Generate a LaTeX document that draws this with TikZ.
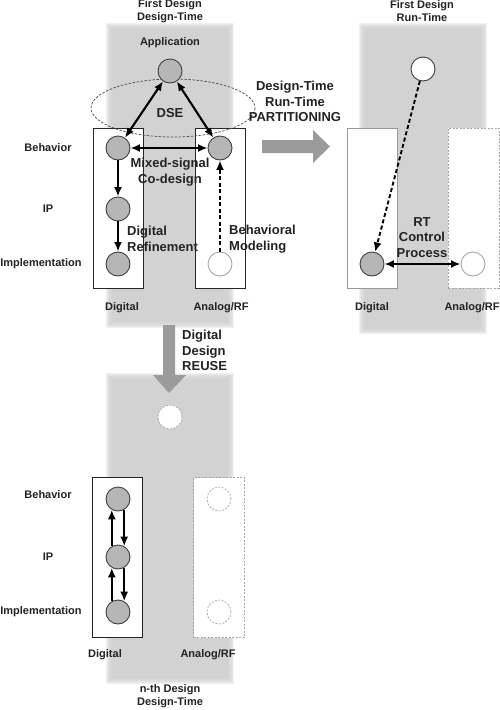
\documentclass[tikz,border=0pt]{standalone}
\usepackage{fontspec}
\setmainfont{Liberation Sans}
\usetikzlibrary{arrows.meta}
\definecolor{bandc}{RGB}{210,210,210}
\definecolor{circc}{RGB}{182,182,182}
\definecolor{txtc}{RGB}{35,35,35}
\definecolor{bigarr}{RGB}{155,155,155}
\tikzset{
  lbl/.style={font=\fontsize{11}{13}\selectfont\bfseries, text=txtc, align=center, inner sep=0pt},
  ann/.style={font=\fontsize{13}{15.5}\selectfont\bfseries, text=txtc, align=center, inner sep=0pt},
  dot/.style={circle, minimum size=24pt, inner sep=0pt, draw=black!75, line width=0.9pt, fill=circc},
  wdot/.style={circle, minimum size=24pt, inner sep=0pt, draw=black!75, line width=0.9pt, fill=white},
  ldot/.style={circle, minimum size=24pt, inner sep=0pt, draw=black!35, line width=0.9pt, fill=white},
  ddot/.style={circle, minimum size=24pt, inner sep=0pt, draw=black!35, line width=0.7pt, dash pattern=on 2pt off 1.5pt, fill=white},
  boxn/.style={rectangle, draw=black!85, line width=0.9pt, fill=white, minimum width=50pt, minimum height=160pt, inner sep=0pt},
  gboxn/.style={rectangle, draw=black!40, line width=0.9pt, fill=white, minimum width=50pt, minimum height=160pt, inner sep=0pt},
  dboxn/.style={rectangle, draw=black!35, line width=0.7pt, dash pattern=on 2pt off 1.5pt, fill=white, minimum width=51pt, minimum height=160pt, inner sep=0pt},
  arr/.style={line width=2.1pt, draw=black, -{Latex[length=9.5pt,width=8pt]}},
  darr/.style={line width=2.1pt, draw=black, {Latex[length=9.5pt,width=8pt]}-{Latex[length=9.5pt,width=8pt]}},
  dsharr/.style={line width=1.9pt, draw=black, dash pattern=on 4pt off 2.5pt, -{Latex[length=9.5pt,width=8pt]}},
}
\newcommand{\myband}[4]{%
  \fill[bandc] (#1+2,#2+2) rectangle (#3-2,#4-2);
  \foreach \d in {-1,0,1,2,3,4}{\fill[bandc, opacity=0.3] (#1-\d,#2-\d) rectangle (#3+\d,#4+\d);}
}
\begin{document}
\begin{tikzpicture}[x=1pt,y=-1pt]
\useasboundingbox (0,0) rectangle (500,710);
\fill[white] (0,0) rectangle (500,710);
% bands
\myband{110}{27}{230}{324}
\myband{363}{27}{483}{330}
\myband{110}{377}{230}{680}

% ---------- top-left: first design, design-time ----------
\node[lbl] (t1) at (170,11.5) {First Design\\Design-Time};
\node[lbl] (appl) at (170,43) {Application};
\node[boxn] (dbox) at (118,208) {};
\node[boxn] (abox) at (220.5,208) {};
\draw[black!70, line width=0.7pt, dash pattern=on 2.5pt off 1.5pt] (173,108) ellipse [x radius=82, y radius=29];
\node[dot] (app) at (170,71) {};
\node[dot] (db) at (118,148) {};
\node[dot] (dip) at (118,209) {};
\node[dot] (dimp) at (118,264) {};
\node[dot] (ab) at (220,148) {};
\node[ldot] (aimp) at (220,264) {};
\draw[darr] (app) -- (db);
\draw[darr] (app) -- (ab);
\draw[darr] (db) -- (ab);
\draw[arr] (db) -- (dip);
\draw[arr] (dip) -- (dimp);
\draw[dsharr] (aimp) -- (ab);
\node[ann] (dse) at (170,113) {DSE};
\node[ann] (msc) at (170,172) {Mixed-signal\\Co-design};
\node[ann, anchor=west, align=left] (dref) at (127,239) {Digital\\Refinement};
\node[ann, anchor=west, align=left] (bmod) at (229,239) {Behavioral\\Modeling};
\node[lbl] (l1) at (48,148) {Behavior};
\node[lbl] (l2) at (48,209) {IP};
\node[lbl] (l3) at (41,264) {Implementation};
\node[lbl] (l4) at (122,308) {Digital};
\node[lbl] (l5) at (221,308) {Analog/RF};

% ---------- partitioning arrow ----------
\fill[bigarr] (262,140) -- (313,140) -- (313,130) -- (330,146.5) -- (313,163) -- (313,153) -- (262,153) -- cycle;
\node[ann] (part) at (295,101.5) {Design-Time\\Run-Time\\PARTITIONING};

% ---------- top-right: first design, run-time ----------
\node[lbl] (t2) at (422,11.5) {First Design\\Run-Time};
\node[gboxn] (rdbox) at (372,208) {};
\node[dboxn] (rabox) at (473.5,208) {};
\node[wdot] (rtop) at (423,69) {};
\node[dot] (rd) at (372,264) {};
\node[ldot] (ra) at (473,264) {};
\draw[dsharr] (rtop) -- (rd);
\draw[darr] (rd) -- (ra);
\node[ann] (rtc) at (422,237.5) {RT\\Control\\Process};
\node[lbl] (l6) at (372,308) {Digital};
\node[lbl] (l7) at (472,308) {Analog/RF};

% ---------- reuse arrow ----------
\fill[bigarr] (163,325) -- (175,325) -- (175,375) -- (186,375) -- (169,393) -- (153,375) -- (163,375) -- cycle;
\node[ann, anchor=west, align=left] (reuse) at (182,350.5) {Digital\\Design\\REUSE};

% ---------- bottom: n-th design ----------
\node[boxn] (nbox) at (117.5,557.5) {};
\node[dboxn] (nabox) at (219,557.5) {};
\node[ddot] (ntop) at (170,417) {};
\node[dot] (nb) at (118,499) {};
\node[dot] (nip) at (118,557) {};
\node[dot] (nimp) at (118,612) {};
\node[ddot] (na1) at (219,499) {};
\node[ddot] (na2) at (219,612) {};
\draw[arr] (nip.120) -- (nb.240);
\draw[arr] (nb.300) -- (nip.60);
\draw[arr] (nimp.120) -- (nip.240);
\draw[arr] (nip.300) -- (nimp.60);
\node[lbl] (l8) at (48,495) {Behavior};
\node[lbl] (l9) at (48,557) {IP};
\node[lbl] (l10) at (41,612) {Implementation};
\node[lbl] (l11) at (105,655) {Digital};
\node[lbl] (l12) at (208,655) {Analog/RF};
\node[lbl] (t3) at (170,696.5) {n-th Design\\Design-Time};
\end{tikzpicture}
\end{document}
